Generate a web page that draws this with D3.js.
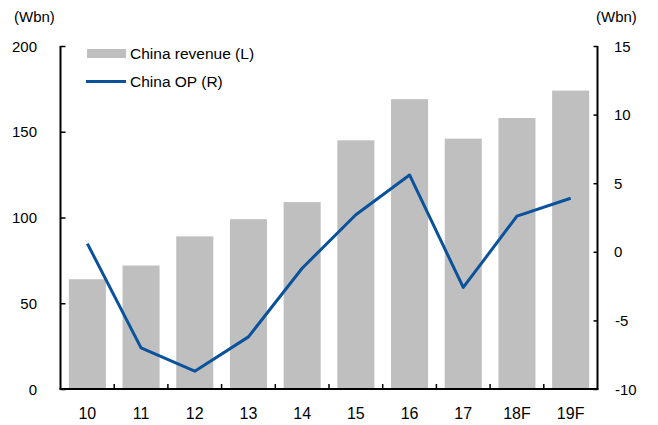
<!DOCTYPE html>
<html>
<head>
<meta charset="utf-8">
<script src="https://cdn.jsdelivr.net/npm/d3@7"></script>
<style>
  body { margin: 0; background: #fff; }
  text { font-family: "Liberation Sans", Arial, sans-serif; fill: #000; }
</style>
</head>
<body>
<script>
// data
const years = ['10', '11', '12', '13', '14', '15', '16', '17', '18F', '19F']
const revenue = [64, 72, 89, 99, 109, 145, 169, 146, 158, 174] // left axis
const op = [0.6, -7.0, -8.7, -6.2, -1.2, 2.7, 5.6, -2.6, 2.6, 3.9] // right axis
const leftTicks = [0, 50, 100, 150, 200]
const rightTicks = [-10, -5, 0, 5, 10, 15]

const m = { width: 658, height: 425, left: 60.5, right: 597.5, top: 46, bottom: 389 }

const svg = d3.select('body').append('svg')
    .attr('width', m.width)
    .attr('height', m.height)

const x = d3.scaleBand()
    .domain(years)
    .range([m.left, m.right])
    .paddingInner(0.31)
    .paddingOuter(0.155)

const yL = d3.scaleLinear().domain([0, 200]).range([m.bottom, m.top])
const yR = d3.scaleLinear().domain([-10, 15]).range([m.bottom, m.top])

// bars
svg.append('g').selectAll('rect')
    .data(revenue)
    .join('rect')
    .attr('x', (d, i) => x(years[i]))
    .attr('y', d => yL(d))
    .attr('width', x.bandwidth())
    .attr('height', d => yL(0) - yL(d))
    .attr('fill', '#bfbfbf')

// line
const line = d3.line()
    .x((d, i) => x(years[i]) + x.bandwidth() / 2)
    .y(d => yR(d))

svg.append('path')
    .datum(op)
    .attr('d', line)
    .attr('fill', 'none')
    .attr('stroke', '#0a529c')
    .attr('stroke-width', 3)
    .attr('stroke-linejoin', 'round')

// left axis
const leftAxis = d3.axisRight(yL).tickValues(leftTicks).tickSize(5).tickFormat('')
const gl = svg.append('g')
    .attr('transform', `translate(${m.left},0)`)
    .call(leftAxis)
gl.select('.domain').attr('stroke-width', 2).attr('d', `M0,${m.top}V${m.bottom}`)
gl.selectAll('.tick line').attr('stroke-width', 1.5)
svg.append('g').selectAll('text')
    .data(leftTicks)
    .join('text')
    .attr('x', 37)
    .attr('y', d => yL(d) + 5.5)
    .attr('text-anchor', 'end')
    .style('font-size', '15px')
    .text(d => d)

// right axis
const rightAxis = d3.axisLeft(yR).tickValues(rightTicks).tickSize(4).tickFormat('')
const gr = svg.append('g')
    .attr('transform', `translate(${m.right},0)`)
    .call(rightAxis)
gr.select('.domain').attr('stroke-width', 2).attr('d', `M0,${m.top}V${m.bottom}`)
gr.selectAll('.tick line').attr('stroke-width', 1.5)
svg.append('g').selectAll('text')
    .data(rightTicks)
    .join('text')
    .attr('x', d => d < 0 ? 615 : 614)
    .attr('y', d => yR(d) + 5.5)
    .style('font-size', '15px')
    .text(d => d)

// bottom axis with ticks between categories
svg.append('line')
    .attr('x1', m.left - 1).attr('x2', m.right + 1)
    .attr('y1', m.bottom).attr('y2', m.bottom)
    .attr('stroke', '#000').attr('stroke-width', 2)
svg.append('g').selectAll('line')
    .data(years.slice(1))
    .join('line')
    .attr('x1', d => x(d) - x.step() * x.paddingInner() / 2)
    .attr('x2', d => x(d) - x.step() * x.paddingInner() / 2)
    .attr('y1', m.bottom)
    .attr('y2', m.bottom - 5)
    .attr('stroke', '#000').attr('stroke-width', 1.5)
svg.append('g').selectAll('text')
    .data(years)
    .join('text')
    .attr('x', d => x(d) + x.bandwidth() / 2)
    .attr('y', 419)
    .attr('text-anchor', 'middle')
    .style('font-size', '16px')
    .text(d => d)

// unit labels
svg.append('text').attr('x', 14).attr('y', 22).style('font-size', '15px').text('(Wbn)')
svg.append('text').attr('x', 596).attr('y', 22).style('font-size', '15px').text('(Wbn)')

// legend
svg.append('rect')
    .attr('x', 87).attr('y', 49).attr('width', 39).attr('height', 9)
    .attr('fill', '#bfbfbf')
svg.append('text').attr('x', 130).attr('y', 59).style('font-size', '15.5px').text('China revenue (L)')
svg.append('line')
    .attr('x1', 86).attr('x2', 126).attr('y1', 81.5).attr('y2', 81.5)
    .attr('stroke', '#0a529c').attr('stroke-width', 3)
svg.append('text').attr('x', 130).attr('y', 87).style('font-size', '15.5px').text('China OP (R)')
</script>
</body>
</html>
